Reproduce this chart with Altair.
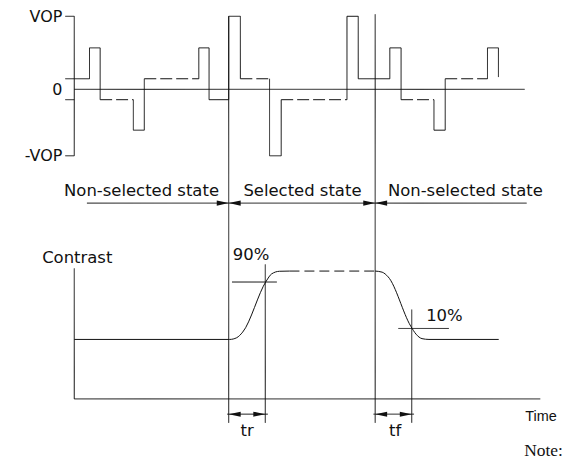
import altair as alt
import pandas as pd

# ---------------- data (diagram units: x = time, y = level measured top-down) ----------------
LEVEL_Y = {"VOP": 15, "mid": 46.7, "low": 77.7, "zero": 88.3,
           "-low": 98.7, "-mid": 129.3, "-VOP": 155}

# drive waveform: switching instants and the level held between them
wave_edges = [65, 89.3, 100, 133.3, 144.3, 199, 209.3, 229, 240.7, 270,
              281.7, 347.7, 359, 390.7, 402, 435, 446.3, 488.7, 499.7]
wave_levels = ["low", "mid", "-low", "-mid", "low", "mid", "-low", "VOP", "low",
               "-VOP", "-low", "VOP", "low", "mid", "-low", "-mid", "low", "mid"]
wave_dashed = [0, 0, 1, 0, 1, 0, 0, 0, 1, 0, 1, 0, 0, 0, 1, 0, 1, 0]
wave_end_y = 76

# contrast response curve
rise_x = [74, 230, 237, 243, 266.7, 272, 280, 290]
rise_y = [339.3, 339.3, 337.6, 332, 280.7, 273.6, 270.9, 270.7]
fall_x = [376, 383, 389, 411.7, 417, 423, 430, 500]
fall_y = [270.7, 271.8, 276.5, 326, 334, 338.5, 339.3, 339.3]
hold_x = [290, 376]          # dashed "on" level
hold_y = 270.7

# key instants
t_sel_on, t_sel_off = 229, 376
t_r90, t_f10 = 265.7, 412.7
y90, y10 = 281.7, 328.3

# ---------------- build tables ----------------
segs = []
def seg(x, y, x2, y2, style="solid"):
    segs.append(dict(x=x, y=y, x2=x2, y2=y2, style=style))

prev = None
for i, lev in enumerate(wave_levels):
    yv = LEVEL_Y[lev]
    if prev is not None:
        seg(wave_edges[i], prev, wave_edges[i], yv)
    seg(wave_edges[i], yv, wave_edges[i + 1], yv, "wave" if wave_dashed[i] else "solid")
    prev = yv
seg(wave_edges[-1], prev, wave_edges[-1], wave_end_y)

# voltage axis, ticks, zero line
seg(74, LEVEL_Y["VOP"], 74, LEVEL_Y["-VOP"])
for k in ["VOP", "-low", "-VOP"]:
    seg(65, LEVEL_Y[k], 74, LEVEL_Y[k])
seg(74, LEVEL_Y["zero"], 526, LEVEL_Y["zero"])

# contrast axes
seg(74, 268, 74, 399)
seg(74, 399, 541.7, 399)

# vertical marker lines
seg(t_sel_on, 15, t_sel_on, 423)
seg(t_sel_off, 13, t_sel_off, 423)
seg(t_r90, 264, t_r90, 423)
seg(t_f10, 309.3, t_f10, 423)

# 90% / 10% level marks
seg(232.3, y90, 277.3, y90)
seg(399.3, y10, 450, y10)

# state dimension lines
seg(86.7, 202.5, t_sel_on, 202.5)
seg(t_sel_on, 202.5, t_sel_off, 202.5)
seg(t_sel_off, 202.5, 528, 202.5)

# tr / tf dimension lines
seg(227.5, 414.3, 268.3, 414.3)
seg(374.3, 414.3, 415, 414.3)

# dashed hold level of contrast
seg(hold_x[0], hold_y, hold_x[1], hold_y, "hold")

seg_df = pd.DataFrame(segs)

curve_df = pd.DataFrame(
    [dict(x=a, y=b, piece="rise", o=i) for i, (a, b) in enumerate(zip(rise_x, rise_y))]
    + [dict(x=a, y=b, piece="fall", o=i) for i, (a, b) in enumerate(zip(fall_x, fall_y))]
)

arrow_df = pd.DataFrame([
    dict(x=t_sel_on, y=202.5, d="right"), dict(x=t_sel_on, y=202.5, d="left"),
    dict(x=t_sel_off, y=202.5, d="right"), dict(x=t_sel_off, y=202.5, d="left"),
    dict(x=t_sel_on, y=414.3, d="left"), dict(x=t_r90, y=414.3, d="right"),
    dict(x=t_sel_off, y=414.3, d="left"), dict(x=t_f10, y=414.3, d="right"),
])

cad_text = pd.DataFrame([
    dict(x=141.5, y=195, t="Non-selected state"),
    dict(x=303, y=195, t="Selected state"),
    dict(x=466.5, y=195, t="Non-selected state"),
    dict(x=77, y=262.7, t="Contrast"),
    dict(x=251.5, y=260, t="90%"),
    dict(x=445.5, y=320.7, t="10%"),
    dict(x=247.5, y=436.5, t="tr"),
    dict(x=396, y=436.5, t="tf"),
])
axis_text = pd.DataFrame([
    dict(x=62, y=21, t="VOP"),
    dict(x=62, y=93.5, t="0"),
    dict(x=62, y=160.5, t="-VOP"),
])
time_text = pd.DataFrame([dict(x=542.5, y=421.5, t="Time")])
note_text = pd.DataFrame([dict(x=545, y=456.5, t="Note:")])

# ---------------- chart ----------------
W, H = 555, 454
xs = alt.Scale(domain=[7.5, 7.5 + W], nice=False, zero=False)
ys = alt.Scale(domain=[7.5, 7.5 + H], nice=False, zero=False, reverse=True)
X = alt.X("x:Q", scale=xs, axis=None)
Y = alt.Y("y:Q", scale=ys, axis=None)
INK = "#111111"

rules = alt.Chart(seg_df).mark_rule(color=INK, strokeWidth=1).encode(
    x=X, y=Y, x2="x2:Q", y2="y2:Q",
    strokeDash=alt.StrokeDash("style:N", legend=None,
                              scale=alt.Scale(domain=["solid", "wave", "hold"],
                                              range=[[1, 0], [12, 4], [10, 5]])),
)

curve = alt.Chart(curve_df).mark_line(color=INK, strokeWidth=1, interpolate="monotone").encode(
    x=X, y=Y, detail="piece:N", order="o:Q"
)

arrows = alt.Chart(arrow_df).mark_point(filled=True, opacity=1, color=INK, strokeWidth=0, size=144).encode(
    x=X, y=Y,
    shape=alt.Shape("d:N", legend=None,
                    scale=alt.Scale(domain=["right", "left"],
                                    range=["M0,0L-2,-0.42L-2,0.42Z", "M0,0L2,-0.42L2,0.42Z"])),
)

t_cad = alt.Chart(cad_text).mark_text(font="DejaVu Sans", fontSize=16.5, color=INK,
                                      align="center", baseline="alphabetic").encode(x=X, y=Y, text="t:N")
t_axis = alt.Chart(axis_text).mark_text(font="DejaVu Sans", fontSize=16, color=INK,
                                        align="right", baseline="alphabetic").encode(x=X, y=Y, text="t:N")
t_time = alt.Chart(time_text).mark_text(font="Liberation Sans", fontSize=14.5, color=INK,
                                        align="center", baseline="alphabetic").encode(x=X, y=Y, text="t:N")
t_note = alt.Chart(note_text).mark_text(font="Liberation Serif", fontSize=17.5, color=INK,
                                        align="center", baseline="alphabetic").encode(x=X, y=Y, text="t:N")

chart = alt.layer(rules, curve, arrows, t_cad, t_axis, t_time, t_note).properties(
    width=W, height=H, padding=0, background="white"
).configure_view(stroke=None)

chart.save("out.html", embed_options={"renderer": "svg", "actions": False})
